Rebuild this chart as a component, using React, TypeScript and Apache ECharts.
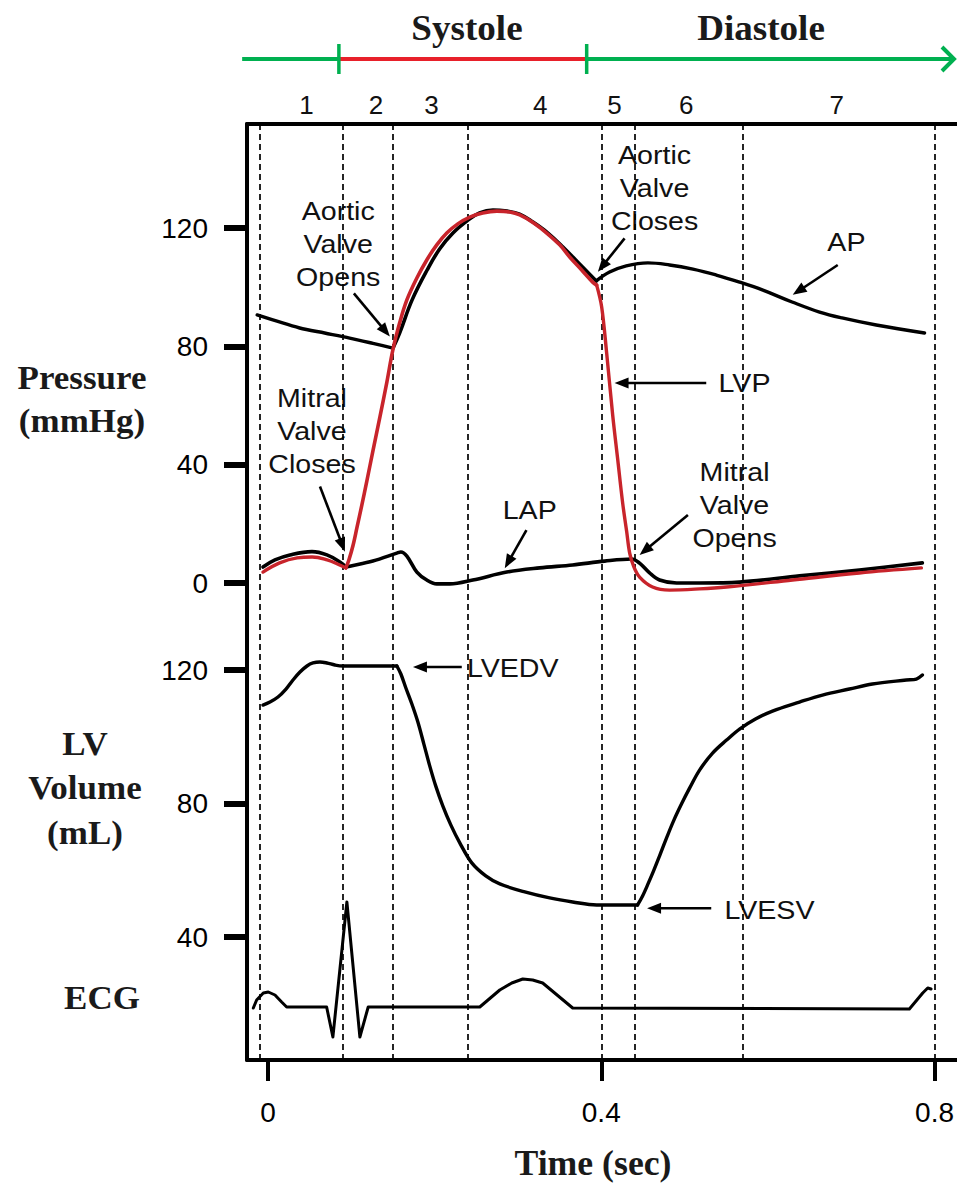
import React, { useEffect, useRef } from 'react';
import * as echarts from 'echarts';

const W = 957;
const H = 1183;

// ---- axes / ticks ----
const timeTicks = [0, 0.4, 0.8];
const pressureTicks = [0, 40, 80, 120];
const volumeTicks = [40, 80, 120];
const phaseBoundaries = [-0.006, 0.094, 0.155, 0.245, 0.395, 0.443, 0.566, 0.797];
const phaseLabelTime = [0.0462, 0.1295, 0.1963, 0.3269, 0.4158, 0.5019, 0.6826];
const phaseLabels = ['1', '2', '3', '4', '5', '6', '7'];

// ---- Aortic pressure (mmHg) ----
const apPreTime = [-0.013, 0.038, 0.068, 0.098, 0.126, 0.150];
const apPrePressure = [90.6, 86.2, 84.5, 82.8, 81.0, 79.4];
const apEjectTime = [0.150, 0.158, 0.173, 0.191, 0.206, 0.222, 0.239, 0.254, 0.270, 0.287, 0.302, 0.318, 0.336, 0.354, 0.374, 0.394];
const apEjectPressure = [79.4, 84.5, 95.7, 105.8, 112.9, 118.3, 122.4, 125.1, 126.1, 125.7, 124.7, 122.0, 118.3, 113.6, 107.8, 102.1];
const apDiastTime = [0.394, 0.410, 0.430, 0.456, 0.482, 0.510, 0.538, 0.566, 0.594, 0.629, 0.662, 0.689, 0.730, 0.788];
const apDiastPressure = [102.1, 105.1, 107.2, 108.2, 107.5, 106.1, 104.1, 101.7, 99.0, 95.0, 91.6, 89.6, 87.2, 84.5];

// ---- Left ventricular pressure (mmHg) ----
const lvpAtrialTime = [-0.006, 0.014, 0.035, 0.053, 0.071, 0.086, 0.0935];
const lvpAtrialPressure = [3.7, 6.8, 8.5, 8.8, 7.8, 6.1, 5.1];
const lvpSystoleTime = [0.0935, 0.0971, 0.1019, 0.1067, 0.1127, 0.1187, 0.1259, 0.1343, 0.1427, 0.1499, 0.1583, 0.1667, 0.1787, 0.1906, 0.2026, 0.2146, 0.2278, 0.2422, 0.2578, 0.2746, 0.2902, 0.3022, 0.3189, 0.3345, 0.3501, 0.3621, 0.3765, 0.3897, 0.3945];
const lvpSystolePressure = [5.1, 7.8, 12.5, 18.6, 26.4, 34.5, 44.6, 56.1, 67.9, 78.8, 88.2, 95.7, 103.1, 109.2, 114.3, 118.3, 121.4, 123.7, 125.1, 125.7, 125.4, 124.4, 121.7, 118.3, 114.3, 110.2, 105.8, 101.7, 100.7];
const lvpRelaxTime = [0.3945, 0.4005, 0.4065, 0.4137, 0.4197, 0.4257, 0.4305, 0.4341, 0.4388, 0.4460, 0.4616, 0.4820, 0.518, 0.5504, 0.6295, 0.7098, 0.7842];
const lvpRelaxPressure = [100.7, 93.3, 77.7, 56.8, 41.9, 27.0, 17.4, 10.1, 5.7, 2.0, -1.35, -2.4, -2.0, -1.35, 1.0, 3.4, 5.1];

// ---- Left atrial pressure (mmHg) ----
const lapAtrialTime = [-0.006, 0.0084, 0.0264, 0.0528, 0.0707, 0.0863, 0.0935];
const lapAtrialPressure = [5.4, 7.8, 9.5, 10.6, 9.5, 7.1, 5.4];
const lapRestTime = [0.0935, 0.0983, 0.1259, 0.1547, 0.1595, 0.1667, 0.1787, 0.1906, 0.2026, 0.2182, 0.2458, 0.2866, 0.3261, 0.3657, 0.4041, 0.4365, 0.446, 0.458, 0.470, 0.4904, 0.518, 0.566, 0.638, 0.7098, 0.7854];
const lapRestPressure = [5.4, 5.7, 7.4, 10.1, 10.5, 9.1, 3.7, 1.0, -0.3, -0.3, 1.0, 3.7, 5.1, 6.1, 7.4, 8.1, 6.7, 3.4, 1.0, 0, 0, 0.3, 2.4, 4.4, 6.8];

// ---- LV volume (mL) ----
const volFillTime = [-0.006, 0.0024, 0.012, 0.0216, 0.03, 0.0384, 0.0468, 0.054, 0.0624, 0.0707, 0.0803, 0.0899, 0.1547];
const volFillVolume = [109.5, 110.4, 111.9, 114.3, 117.0, 119.4, 121.2, 122.1, 122.4, 122.1, 121.5, 121.2, 121.2];
const volEjectTime = [0.1547, 0.1595, 0.1655, 0.1727, 0.1799, 0.1871, 0.1942, 0.2014, 0.2098, 0.2194, 0.2302, 0.2446, 0.2614, 0.2782, 0.3082, 0.3381, 0.3657, 0.3945, 0.4436];
const volEjectVolume = [121.2, 118.8, 114.6, 109.8, 104.4, 97.8, 91.2, 85.2, 79.3, 73.6, 68.2, 62.2, 58.3, 55.9, 53.5, 51.7, 50.5, 49.6, 49.6];
const volRefillTime = [0.4436, 0.4496, 0.4556, 0.4628, 0.47, 0.4784, 0.4868, 0.4964, 0.506, 0.518, 0.5336, 0.5504, 0.566, 0.5851, 0.6055, 0.6379, 0.6655, 0.6978, 0.7254, 0.7662, 0.7782, 0.7854];
const volRefillVolume = [49.6, 52.3, 55.6, 59.8, 64.3, 69.7, 74.8, 79.9, 84.6, 90.0, 95.1, 99.0, 102.3, 105.3, 107.7, 110.4, 112.5, 114.3, 115.8, 117.0, 117.3, 118.5];

// ---- ECG (mV, arbitrary) ----
const ecgTime = [-0.0176, -0.0136, -0.0056, 0.0004, 0.0084, 0.0164, 0.0224, 0.0704, 0.0779, 0.0947, 0.1103, 0.1203, 0.2542, 0.2782, 0.2926, 0.3058, 0.3177, 0.3297, 0.3657, 0.7698, 0.7858, 0.7918, 0.7958];
const ecgVoltage = [-0.01, 0.07, 0.14, 0.15, 0.12, 0.05, 0.0, 0.0, -0.30, 1.05, -0.30, 0.0, 0.0, 0.17, 0.24, 0.28, 0.27, 0.24, -0.01, -0.02, 0.14, 0.19, 0.18];

// ---- annotations ----
const noteText = ['Aortic\nValve\nOpens', 'Mitral\nValve\nCloses', 'LAP', 'Aortic\nValve\nCloses', 'AP', 'LVP', 'Mitral\nValve\nOpens', 'LVEDV', 'LVESV'];
const noteAxis = [0, 0, 0, 0, 0, 0, 0, 1, 1];
const noteTime = [0.0843, 0.0528, 0.3141, 0.4640, 0.6942, 0.5719, 0.5600, 0.2938, 0.6019];
const noteValue = [114.6, 51.4, 24.7, 133.5, 115.3, 67.6, 26.4, 120.6, 48.1];

const arrowAxis = [0, 0, 0, 0, 0, 0, 0, 1, 1];
const arrowFromTime = [0.1031, 0.0624, 0.3102, 0.4280, 0.6838, 0.5260, 0.5040, 0.2326, 0.5320];
const arrowFromValue = [97.9, 32.6, 17.9, 116.5, 107.5, 67.6, 23.0, 120.9, 48.6];
const arrowToTime = [0.1463, 0.0923, 0.2842, 0.3960, 0.6298, 0.4160, 0.4460, 0.1740, 0.4550];
const arrowToValue = [83.3, 10.6, 5.0, 105.2, 97.4, 67.6, 9.5, 120.9, 48.6];

// ---- layout constants ----
const GRID_LEFT = 247;
const GRID_TOP = 124;
const GRID_BOTTOM_Y = 1060;
const T_MIN = (GRID_LEFT - 268) / 834;
const T_MAX = (W - 268) / 834;
const P_MIN = -(GRID_BOTTOM_Y - 583) / 2.9583;
const P_MAX = (583 - GRID_TOP) / 2.9583;
const V_MIN = 120 - (GRID_BOTTOM_Y - 670) / 3.3375;
const V_MAX = 120 + (670 - GRID_TOP) / 3.3375;
const E_MIN = -(GRID_BOTTOM_Y - 1007) / 100;
const E_MAX = (1007 - GRID_TOP) / 100;

const SANS = "'Liberation Sans', Arial, Helvetica, sans-serif";
const SERIF = "'Liberation Serif', 'Times New Roman', serif";
const RED = '#c8242b';
const GREEN = '#00b050';
const HRED = '#e8202a';

const zip = (ts: number[], vs: number[]) => ts.map((t, i) => [t, vs[i]]);

function curve(data: number[][], yAxisIndex: number, color: string, width: number, smooth: number | boolean, z: number) {
  return {
    type: 'line',
    data,
    xAxisIndex: 0,
    yAxisIndex,
    showSymbol: false,
    symbol: 'none',
    smooth,
    silent: true,
    z,
    lineStyle: { color, width, cap: 'round', join: 'round' },
  };
}

function buildOption() {
  const tickLabel = { fontSize: 28, fontFamily: SANS, color: '#000' };
  return {
    animation: false,
    backgroundColor: '#fff',
    grid: { left: GRID_LEFT, top: GRID_TOP, right: 0, bottom: H - GRID_BOTTOM_Y, containLabel: false },
    xAxis: [
      {
        type: 'value', min: T_MIN, max: T_MAX, position: 'bottom',
        axisLine: { show: true, onZero: false, lineStyle: { color: '#000', width: 4 } },
        axisTick: { show: true, customValues: timeTicks, length: 21, lineStyle: { color: '#000', width: 4 } },
        axisLabel: { show: true, customValues: timeTicks, margin: 38, ...tickLabel, formatter: (v: number) => `${v}` },
        splitLine: { show: false },
      },
      {
        type: 'value', min: T_MIN, max: T_MAX, position: 'top',
        axisLine: { show: true, onZero: false, lineStyle: { color: '#000', width: 4 } },
        axisTick: { show: false },
        axisLabel: {
          show: true, customValues: phaseLabelTime, margin: 6, fontSize: 26, fontFamily: SANS, color: '#111',
          formatter: (v: number) => {
            const i = phaseLabelTime.findIndex((p) => Math.abs(p - v) < 1e-6);
            return i >= 0 ? phaseLabels[i] : '';
          },
        },
        splitLine: { show: false },
      },
    ],
    yAxis: [
      {
        type: 'value', min: P_MIN, max: P_MAX, position: 'left',
        axisLine: { show: true, onZero: false, lineStyle: { color: '#000', width: 4 } },
        axisTick: { show: true, customValues: pressureTicks, length: 23, lineStyle: { color: '#000', width: 6 } },
        axisLabel: { show: true, customValues: pressureTicks, margin: 39, ...tickLabel },
        splitLine: { show: false },
      },
      {
        type: 'value', min: V_MIN, max: V_MAX, position: 'left',
        axisLine: { show: false, onZero: false },
        axisTick: { show: true, customValues: volumeTicks, length: 23, lineStyle: { color: '#000', width: 6 } },
        axisLabel: { show: true, customValues: volumeTicks, margin: 39, ...tickLabel },
        splitLine: { show: false },
      },
      { type: 'value', min: E_MIN, max: E_MAX, show: false, axisLine: { onZero: false } },
    ],
    series: [
      {
        type: 'line', data: [], xAxisIndex: 0, yAxisIndex: 0, z: 1, silent: true,
        markLine: {
          silent: true, symbol: ['none', 'none'], label: { show: false },
          lineStyle: { type: [6, 4], color: '#000', width: 1.7 },
          data: phaseBoundaries.map((t) => ({ xAxis: t })),
        },
      },
      curve(zip(apPreTime, apPrePressure), 0, '#000', 3.4, 0.3, 5),
      curve(zip(apEjectTime, apEjectPressure), 0, '#000', 3.6, 0.4, 5),
      curve(zip(apDiastTime, apDiastPressure), 0, '#000', 3.4, 0.4, 5),
      curve(zip(lapAtrialTime, lapAtrialPressure), 0, '#000', 3.6, 0.4, 5),
      curve(zip(lapRestTime, lapRestPressure), 0, '#000', 3.6, 0.35, 5),
      curve(zip(lvpAtrialTime, lvpAtrialPressure), 0, RED, 3.4, 0.4, 6),
      curve(zip(lvpSystoleTime, lvpSystolePressure), 0, RED, 3.6, 0.35, 6),
      curve(zip(lvpRelaxTime, lvpRelaxPressure), 0, RED, 3.4, 0.35, 6),
      curve(zip(volFillTime, volFillVolume), 1, '#000', 3.4, 0.35, 5),
      curve(zip(volEjectTime, volEjectVolume), 1, '#000', 3.4, 0.35, 5),
      curve(zip(volRefillTime, volRefillVolume), 1, '#000', 3.4, 0.35, 5),
      curve(zip(ecgTime, ecgVoltage), 2, '#000', 3, false, 5),
    ],
  };
}

function buildGraphics(chart: any) {
  const px = (axis: number, t: number, v: number) =>
    chart.convertToPixel({ xAxisIndex: 0, yAxisIndex: axis }, [t, v]) as number[];
  const els: any[] = [];

  // annotation texts (white box hides dashed lines behind them)
  noteText.forEach((text, i) => {
    const [x, y] = px(noteAxis[i], noteTime[i], noteValue[i]);
    els.push({
      type: 'text', x, y, scaleX: 1.1, z: 3, silent: true,
      style: {
        text, align: 'center', verticalAlign: 'middle', fontSize: 26, fontFamily: SANS, fill: '#111',
        lineHeight: 33, backgroundColor: '#fff', padding: [3, 5],
      },
    });
  });

  // arrows
  arrowFromTime.forEach((_, i) => {
    const [x0, y0] = px(arrowAxis[i], arrowFromTime[i], arrowFromValue[i]);
    const [x1, y1] = px(arrowAxis[i], arrowToTime[i], arrowToValue[i]);
    const dx = x1 - x0, dy = y1 - y0;
    const len = Math.hypot(dx, dy);
    const ux = dx / len, uy = dy / len;
    const L = 14, hw = 5.5;
    const bx = x1 - ux * L, by = y1 - uy * L;
    els.push({ type: 'line', z: 8, silent: true, shape: { x1: x0, y1: y0, x2: bx + ux * 2, y2: by + uy * 2 }, style: { stroke: '#000', lineWidth: 2.6 } });
    els.push({
      type: 'polygon', z: 8, silent: true,
      shape: { points: [[x1, y1], [bx - uy * hw, by + ux * hw], [bx + uy * hw, by - ux * hw]] },
      style: { fill: '#000' },
    });
  });

  // header: Systole / Diastole
  const yH = 59;
  const [xa] = px(0, -0.031, 0);
  const [xs] = px(0, 0.0851, 0);
  const [xd] = px(0, 0.3825, 0);
  els.push({ type: 'line', z: 8, silent: true, shape: { x1: xa, y1: yH, x2: xs, y2: yH }, style: { stroke: GREEN, lineWidth: 4 } });
  els.push({ type: 'line', z: 8, silent: true, shape: { x1: xs, y1: yH, x2: xd, y2: yH }, style: { stroke: HRED, lineWidth: 4 } });
  els.push({ type: 'line', z: 8, silent: true, shape: { x1: xd, y1: yH, x2: W - 3, y2: yH }, style: { stroke: GREEN, lineWidth: 4 } });
  els.push({ type: 'polyline', z: 8, silent: true, shape: { points: [[W - 15, yH - 12], [W - 3, yH], [W - 15, yH + 12]] }, style: { stroke: GREEN, lineWidth: 4, fill: 'none' } });
  [xs, xd].forEach((x) => {
    els.push({ type: 'line', z: 9, silent: true, shape: { x1: x, y1: yH - 15, x2: x, y2: yH + 15 }, style: { stroke: GREEN, lineWidth: 3.5 } });
  });
  const serifBold = (text: string, x: number, y: number, size: number, lh: number, sx = 1.06) => ({
    type: 'text', x, y, scaleX: sx, z: 9, silent: true,
    style: { text, align: 'center', verticalAlign: 'middle', fontSize: size, fontWeight: 'bold', fontFamily: SERIF, fill: '#1a1a1a', lineHeight: lh },
  });
  els.push(serifBold('Systole', 467, 28, 35, 40));
  els.push(serifBold('Diastole', 761, 28, 35, 40));

  // axis titles
  els.push(serifBold('Pressure\n(mmHg)', 82, 399, 33, 43));
  els.push(serifBold('LV\nVolume\n(mL)', 85, 788, 33, 44.5));
  els.push(serifBold('ECG', 102, 998, 33, 40));
  els.push(serifBold('Time (sec)', 593, 1163, 35, 40, 1.02));

  return els;
}

export default function App() {
  const ref = useRef<HTMLDivElement>(null);
  useEffect(() => {
    const chart = echarts.init(ref.current!, null, { renderer: 'svg' });
    chart.setOption(buildOption() as any);
    chart.setOption({ graphic: { elements: buildGraphics(chart) } } as any);
    return () => chart.dispose();
  }, []);
  return (
    <div
      ref={ref}
      style={{ position: 'absolute', left: 0, top: 0, width: W, height: H, background: '#fff' }}
    />
  );
}
